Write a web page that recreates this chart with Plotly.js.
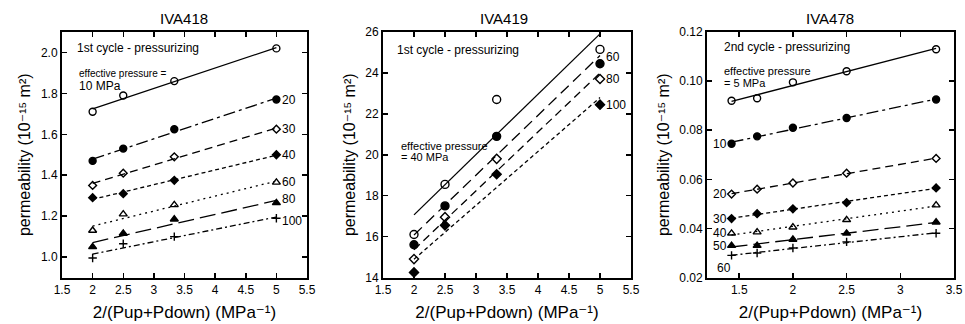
<!DOCTYPE html>
<html><head><meta charset="utf-8">
<script src="https://cdn.plot.ly/plotly-3.0.1.min.js"></script>
<style>html,body{margin:0;padding:0;background:#fff}#chart{width:965px;height:324px}</style>
</head><body><div id="chart"></div>
<script>
// ---------- data ----------
const panelTitles = ['IVA418', 'IVA419', 'IVA478'];

// IVA418, 1st cycle - pressurizing
const x418 = [2, 2.5, 3.3333, 5];
const p418_10 = [1.71, 1.79, 1.86, 2.02];
const p418_20 = [1.47, 1.53, 1.625, 1.77];
const p418_30 = [1.35, 1.41, 1.49, 1.625];
const p418_40 = [1.29, 1.31, 1.375, 1.50];
const p418_60 = [1.13, 1.21, 1.255, 1.365];
const p418_80 = [1.05, 1.115, 1.185, 1.265];
const p418_100 = [0.995, 1.065, 1.10, 1.19];

// IVA419, 1st cycle - pressurizing
const x419 = [2, 2.5, 3.3333, 5];
const p419_40 = [16.1, 18.55, 22.7, 25.15];
const p419_60 = [15.6, 17.5, 20.9, 24.45];
const p419_80 = [14.9, 16.95, 19.8, 23.7];
const p419_100 = [14.25, 16.55, 19.05, 22.45];

// IVA478, 2nd cycle - pressurizing
const x478 = [1.4286, 1.6667, 2, 2.5, 3.3333];
const p478_5 = [0.092, 0.093, 0.0995, 0.104, 0.113];
const p478_10 = [0.0745, 0.0775, 0.081, 0.085, 0.0925];
const p478_20 = [0.054, 0.056, 0.0585, 0.0625, 0.0685];
const p478_30 = [0.044, 0.046, 0.048, 0.0505, 0.0565];
const p478_40 = [0.038, 0.0385, 0.0405, 0.0435, 0.0495];
const p478_50 = [0.033, 0.033, 0.0355, 0.038, 0.0425];
const p478_60 = [0.029, 0.030, 0.032, 0.0345, 0.038];

const xTitle = '2/(Pup+Pdown) (MPa\u207B\u00B9)';
const yTitle = 'permeability (10\u207B\u00B9\u2075 m\u00B2)';

// ---------- styles ----------
const FONT = 'Liberation Sans, Arial, Helvetica, DejaVu Sans, sans-serif';
const SYM = {
  oc: {symbol: 'circle-open', size: 7},
  fc: {symbol: 'circle', size: 7},
  od: {symbol: 'diamond-open', size: 6},
  fd: {symbol: 'diamond', size: 6},
  ot: {symbol: 'triangle-up-open', size: 7},
  ft: {symbol: 'triangle-up', size: 7},
  pl: {symbol: 'cross-thin-open', size: 6}
};
const DASH = {
  solid: 'solid',
  ldd: '12px,4px,3px,4px',
  dash: '8px,5px',
  sdash: '4px,3px',
  dot: '2px,4px',
  ldash: '16px,6px',
  dd: '6px,3px,2px,3px',
  mdash: '11px,6px'
};

const panels = [
  {ax: '', x: x418, big: 0, series: [
    {name: '10 MPa', y: p418_10, s: 'oc', d: 'solid'},
    {name: '20 MPa', y: p418_20, s: 'fc', d: 'ldd', lab: '20', side: 'r'},
    {name: '30 MPa', y: p418_30, s: 'od', d: 'dash', lab: '30', side: 'r'},
    {name: '40 MPa', y: p418_40, s: 'fd', d: 'sdash', lab: '40', side: 'r'},
    {name: '60 MPa', y: p418_60, s: 'ot', d: 'dot', lab: '60', side: 'r'},
    {name: '80 MPa', y: p418_80, s: 'ft', d: 'ldash', lab: '80', side: 'r', dy: 4},
    {name: '100 MPa', y: p418_100, s: 'pl', d: 'dd', lab: '100', side: 'r', dy: -3}
  ]},
  {ax: '2', x: x419, big: 1, series: [
    {name: '40 MPa', y: p419_40, s: 'oc', d: 'solid'},
    {name: '60 MPa', y: p419_60, s: 'fc', d: 'mdash', lab: '60', side: 'r', dy: 7},
    {name: '80 MPa', y: p419_80, s: 'od', d: 'dash', lab: '80', side: 'r'},
    {name: '100 MPa', y: p419_100, s: 'fd', d: 'sdash', lab: '100', side: 'r'}
  ]},
  {ax: '3', x: x478, big: 0, series: [
    {name: '5 MPa', y: p478_5, s: 'oc', d: 'solid'},
    {name: '10 MPa', y: p478_10, s: 'fc', d: 'ldd', lab: '10', side: 'l'},
    {name: '20 MPa', y: p478_20, s: 'od', d: 'dash', lab: '20', side: 'l'},
    {name: '30 MPa', y: p478_30, s: 'fd', d: 'sdash', lab: '30', side: 'l'},
    {name: '40 MPa', y: p478_40, s: 'ot', d: 'dot', lab: '40', side: 'l'},
    {name: '50 MPa', y: p478_50, s: 'ft', d: 'ldash', lab: '50', side: 'l'},
    {name: '60 MPa', y: p478_60, s: 'pl', d: 'dd', lab: '60', side: 'l', dy: -13, dx: 4}
  ]}
];

function linfit(xs, ys) {
  const n = xs.length;
  const mx = xs.reduce((a, b) => a + b, 0) / n;
  const my = ys.reduce((a, b) => a + b, 0) / n;
  let sxy = 0, sxx = 0;
  for (let i = 0; i < n; i++) { sxy += (xs[i] - mx) * (ys[i] - my); sxx += (xs[i] - mx) ** 2; }
  const b = sxy / sxx, a = my - b * mx;
  const x0 = Math.min(...xs), x1 = Math.max(...xs);
  return {x: [x0, x1], y: [a + b * x0, a + b * x1]};
}

const traces = [];
const annotations = [];
panels.forEach(p => {
  const xa = 'x' + p.ax, ya = 'y' + p.ax;
  p.series.forEach(s => {
    const f = linfit(p.x, s.y);
    traces.push({x: f.x, y: f.y, xaxis: xa, yaxis: ya, mode: 'lines', name: s.name + ' fit',
      showlegend: false, hoverinfo: 'skip', line: {color: '#000', width: 1.3, dash: DASH[s.d]}});
    const sy = SYM[s.s];
    traces.push({x: p.x, y: s.y, xaxis: xa, yaxis: ya, mode: 'markers', name: s.name, showlegend: false,
      marker: {symbol: sy.symbol, size: sy.size + p.big, color: '#000', line: {color: '#000', width: 1.4}}});
    if (s.lab) {
      const i = s.side === 'r' ? p.x.length - 1 : 0;
      annotations.push({x: p.x[i], y: s.y[i], xref: xa, yref: ya, text: s.lab, showarrow: false,
        xanchor: s.side === 'r' ? 'left' : 'right', xshift: s.side === 'r' ? 4 : -3 + (s.dx || 0),
        yshift: s.dy || 0, font: {family: FONT, size: 12, color: '#000'}});
    }
  });
});

// pixel -> paper helpers for free text placement
const W = 965, H = 324;
const px = v => v / W, py = v => 1 - v / H;
function txt(x, y, text, size, xanchor) {
  annotations.push({x: px(x), y: py(y), xref: 'paper', yref: 'paper', text: text, showarrow: false,
    xanchor: xanchor || 'left', yanchor: 'middle', font: {family: FONT, size: size, color: '#000'}});
}
// panel titles
txt(184, 18, panelTitles[0], 15, 'center');
txt(504, 18, panelTitles[1], 15, 'center');
txt(830, 18, panelTitles[2], 15, 'center');
// panel notes
txt(75, 48, '1st cycle - pressurizing', 12);
txt(77, 73, 'effective pressure =', 10);
txt(77, 86, '10 MPa', 12);
txt(395, 50, '1st cycle - pressurizing', 12);
txt(399, 146, 'effective pressure', 11);
txt(399, 157, '= 40 MPa', 11);
txt(722, 47, '2nd cycle - pressurizing', 12);
txt(722, 71, 'effective pressure', 11);
txt(722, 83, '= 5 MPa', 11);

const yDom = [0.1435, 0.9012];
function xax(dom, range, tick0, dtick, anchor) {
  return {domain: dom, range: range, tick0: tick0, dtick: dtick, anchor: anchor,
    showline: true, linewidth: 2, linecolor: '#000', mirror: 'ticks', ticks: 'inside', ticklen: 5,
    tickwidth: 1.5, tickcolor: '#000', showgrid: false, zeroline: false,
    tickfont: {family: FONT, size: 12, color: '#000'},
    title: {text: xTitle, font: {family: FONT, size: 17, color: '#000'}, standoff: 10}};
}
function yax(range, tick0, dtick, fmt, anchor) {
  return {domain: yDom, range: range, tick0: tick0, dtick: dtick, tickformat: fmt, anchor: anchor,
    showline: true, linewidth: 2, linecolor: '#000', mirror: 'ticks', ticks: 'inside', ticklen: 5,
    tickwidth: 1.5, tickcolor: '#000', showgrid: false, zeroline: false,
    tickfont: {family: FONT, size: 12, color: '#000'},
    title: {text: yTitle, font: {family: FONT, size: 16, color: '#000'}, standoff: 6}};
}

const layout = {
  width: W, height: H, margin: {l: 0, r: 0, t: 0, b: 0}, showlegend: false,
  paper_bgcolor: '#fff', plot_bgcolor: '#fff',
  xaxis: xax([px(62), px(307)], [1.5, 5.5], 1.5, 0.5, 'y'),
  yaxis: yax([0.9, 2.1], 1.0, 0.2, '.1f', 'x'),
  xaxis2: xax([px(383), px(631)], [1.5, 5.5], 1.5, 0.5, 'y2'),
  yaxis2: yax([14, 26], 14, 2, '', 'x2'),
  xaxis3: xax([px(707), px(954)], [1.2, 3.5], 1.5, 0.5, 'y3'),
  yaxis3: yax([0.02, 0.12], 0.02, 0.02, '.2f', 'x3'),
  annotations: annotations
};

Plotly.newPlot('chart', traces, layout, {staticPlot: true, displayModeBar: false});
</script>
</body></html>
